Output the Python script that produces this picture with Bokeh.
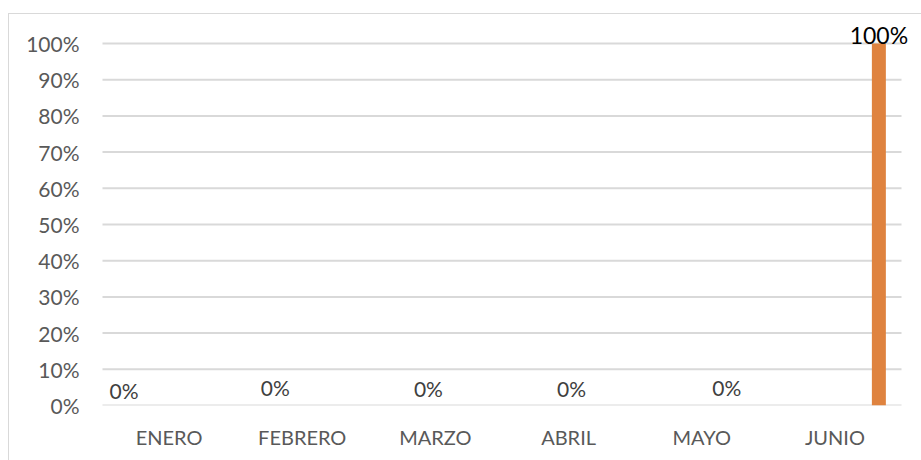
from bokeh.plotting import figure
from bokeh.models import ColumnDataSource, NumeralTickFormatter, FixedTicker, LabelSet, Range1d
from bokeh.transform import dodge
from bokeh.core.properties import value
from bokeh.embed import file_html
from bokeh.resources import INLINE

# ---- data ----
months = ["ENERO", "FEBRERO", "MARZO", "ABRIL", "MAYO", "JUNIO"]
pct = [0.0, 0.0, 0.0, 0.0, 0.0, 1.0]
labels = ["0%", "0%", "0%", "0%", "0%", "100%"]
y_ticks = [0.0, 0.1, 0.2, 0.3, 0.4, 0.5, 0.6, 0.7, 0.8, 0.9, 1.0]

# ---- label styling (pixel offsets, as placed in the original; +y = up) ----
lab_dx = [-45, -27, -7, 3, 25, 44]
lab_dy = [15, 18, 17, 17, 18, 9]
lab_size = ["21px", "21px", "21px", "21px", "21px", "23px"]
lab_color = ["#404040", "#404040", "#404040", "#404040", "#404040", "#000000"]

src = ColumnDataSource(dict(m=months, v=pct, t=labels, dx=lab_dx, dy=lab_dy,
                            fs=lab_size, c=lab_color))

FONT = "Lato"
PX_PER_UNIT = 362          # 0% -> 100% spans 362 px
FRAME_H = 384              # extra room above 100% for the data label

p = figure(x_range=months, y_range=Range1d(0, FRAME_H / PX_PER_UNIT),
           frame_width=815, frame_height=FRAME_H,
           min_border_left=85, min_border_right=12,
           min_border_top=7, min_border_bottom=55,
           output_backend="svg", toolbar_location=None,
           background_fill_color="white", border_fill_color="white")
p.styles = {"border-left": "1px solid #D9D9D9", "border-top": "1px solid #D9D9D9",
            "margin-top": "13px", "margin-left": "8px"}
p.outline_line_color = None
# small extra room left/right so the data label is not clipped
p.x_range.range_padding_units = "absolute"
p.x_range.range_padding = 0.06

# horizontal gridlines spanning only the category area
grid_src = ColumnDataSource(dict(y=y_ticks,
                                 a=[months[0]] * len(y_ticks),
                                 b=[months[-1]] * len(y_ticks)))
p.segment(x0=dodge("a", -0.5, range=p.x_range), x1=dodge("b", 0.5, range=p.x_range),
          y0="y", y1="y", source=grid_src, line_color="#D9D9D9", line_width=2,
          level="underlay")

p.vbar(x=dodge("m", 0.33, range=p.x_range), top="v", width=0.105, bottom=0,
       source=src, fill_color="#DF833F", line_color=None)

labs = LabelSet(x="m", y="v", text="t", x_offset="dx", y_offset="dy", source=src,
                text_font=value(FONT), text_font_size="fs", text_color="c",
                text_align="center", text_baseline="middle")
p.add_layout(labs)

# y axis
p.yaxis.ticker = FixedTicker(ticks=y_ticks)
p.yaxis.formatter = NumeralTickFormatter(format="0%")
p.yaxis.axis_line_color = None
p.yaxis.major_tick_line_color = None
p.yaxis.minor_tick_line_color = None
p.yaxis.major_label_text_font = FONT
p.yaxis.major_label_text_font_size = "21px"
p.yaxis.major_label_text_color = "#595959"
p.yaxis.major_label_standoff = 9

# x axis
p.xaxis.axis_line_color = None
p.xaxis.major_tick_line_color = None
p.xaxis.minor_tick_line_color = None
p.xaxis.major_label_text_font = FONT
p.xaxis.major_label_text_font_size = "20px"
p.xaxis.major_label_text_color = "#595959"
p.xaxis.major_label_standoff = 13

p.xgrid.grid_line_color = None
p.ygrid.grid_line_color = None

open("out.html", "w").write(file_html(p, INLINE))
